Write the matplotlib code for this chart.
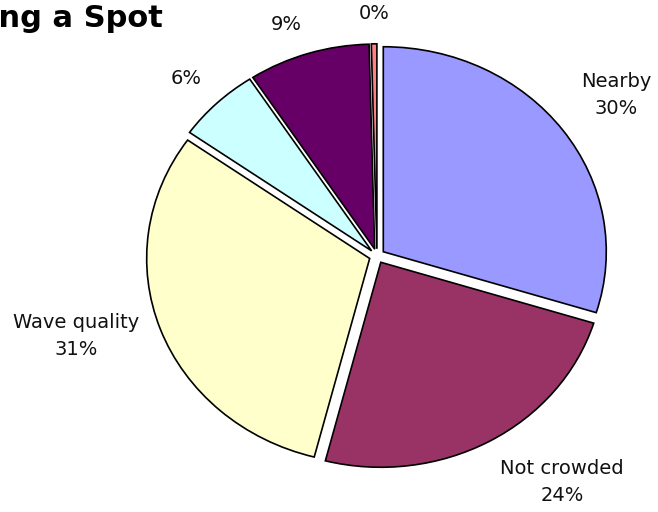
import numpy as np
import matplotlib
matplotlib.use("Agg")
import matplotlib.pyplot as plt

# Pie of reasons for choosing a surf spot.
categories = ["Nearby", "Not crowded", "Wave quality", "", "", ""]
shares = [29.8, 24.2, 30.8, 6.0, 8.8, 0.4]
colors = ["#9999FF", "#993366", "#FFFFCC", "#CCFFFF", "#660066", "#FF8080"]
title = "Choosing a Spot"

plt.rcParams["font.family"] = ["DejaVu Sans"]

labels = []
for name, val in zip(categories, shares):
    pct = f"{val:.0f}%"
    labels.append(f"{name}\n{pct}" if name else pct)

fig = plt.figure(figsize=(6.58, 5.12), dpi=100)
ax = fig.add_axes([0, 0, 1, 1])

wedges, texts = ax.pie(
    shares,
    labels=labels,
    colors=colors,
    explode=[0.035] * len(shares),
    startangle=90,
    counterclock=False,
    labeldistance=1.1,
    wedgeprops=dict(edgecolor="black", linewidth=1.2),
    textprops=dict(fontsize=14, color="#111111"),
)

# Excel-like label anchoring: box corner attached to the point outside the slice
for t in texts:
    x, y = t.get_position()
    ang = np.arctan2(y, x)
    c, s = np.cos(ang), np.sin(ang)
    if abs(c) < 0.1:
        t.set_ha("center")
    else:
        t.set_ha("left" if c > 0 else "right")
    if abs(s) < 0.5:
        t.set_va("center")
    else:
        t.set_va("bottom" if s > 0 else "top")
    t.set_multialignment("center")
    t.set_linespacing(1.55)

# slightly stretched ellipse, like the original
cx, cy = 377, 256
rx, ry = 223, 205
ax.set_aspect("auto")
ax.set_xlim(-cx / rx, (658 - cx) / rx)
ax.set_ylim(-(512 - cy) / ry, cy / ry)
ax.axis("off")

# title is partly cut off at the left edge in the original
fig.text(163 / 658, 1 - 27 / 512, title, ha="right", va="baseline",
         fontsize=22, fontweight="bold")

fig.savefig("out.png", dpi=100)
